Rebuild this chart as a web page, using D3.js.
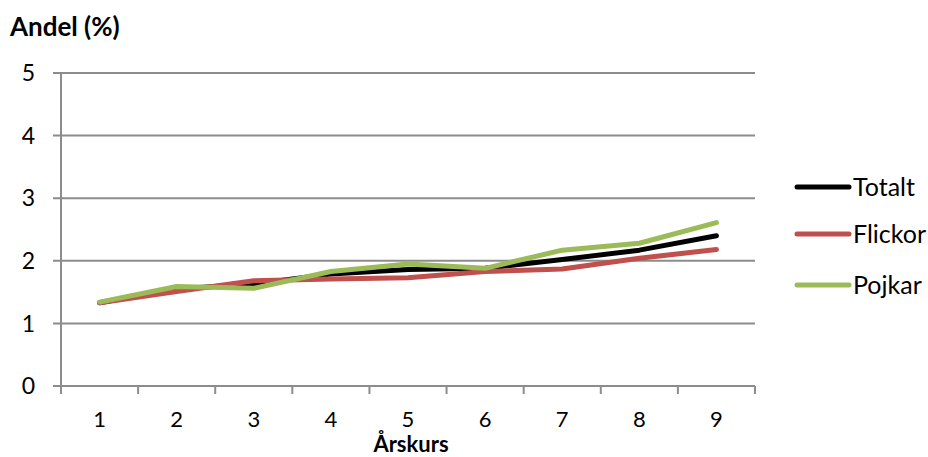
<!DOCTYPE html>
<html>
<head>
<meta charset="utf-8">
<script src="https://cdn.jsdelivr.net/npm/d3@7"></script>
<style>
  body { margin: 0; background: #fff; }
  text { font-family: Lato, "Open Sans", sans-serif; fill: #000; }
</style>
</head>
<body>
<div class="chart"></div>
<script>
var svgWidth = 928;
var svgHeight = 457;

// data
var grades = ["1", "2", "3", "4", "5", "6", "7", "8", "9"];
var totalt = [1.33, 1.55, 1.63, 1.79, 1.86, 1.88, 2.02, 2.17, 2.40];
var flickor = [1.33, 1.51, 1.68, 1.71, 1.73, 1.83, 1.87, 2.04, 2.18];
var pojkar = [1.34, 1.59, 1.56, 1.83, 1.95, 1.88, 2.17, 2.28, 2.61];
var yTicks = [0, 1, 2, 3, 4, 5];

var series = [
  { name: "Totalt", values: totalt, color: "#000000" },
  { name: "Flickor", values: flickor, color: "#C0504D" },
  { name: "Pojkar", values: pojkar, color: "#9BBB59" }
];

var margin = { top: 73, right: 173, bottom: 71, left: 61 };
var width = svgWidth - margin.left - margin.right;
var height = svgHeight - margin.top - margin.bottom;

var svg = d3.select(".chart")
  .append("svg")
  .attr("width", svgWidth)
  .attr("height", svgHeight);

var chartGroup = svg.append("g")
  .attr("transform", `translate(${margin.left}, ${margin.top})`);

var xScale = d3.scaleBand()
  .domain(grades)
  .range([0, width])
  .padding(0);

var yScale = d3.scaleLinear()
  .domain([0, 5])
  .range([height, 0]);

// gridlines
chartGroup.append("g")
  .selectAll("line")
  .data(yTicks)
  .enter()
  .append("line")
  .attr("x1", -8)
  .attr("x2", width)
  .attr("y1", d => yScale(d))
  .attr("y2", d => yScale(d))
  .attr("stroke", "#8c8c8c")
  .attr("stroke-width", 2);

// y axis line
chartGroup.append("line")
  .attr("x1", 0).attr("x2", 0)
  .attr("y1", 0).attr("y2", height)
  .attr("stroke", "#8c8c8c")
  .attr("stroke-width", 2);

// y labels
chartGroup.append("g")
  .selectAll("text")
  .data(yTicks)
  .enter()
  .append("text")
  .attr("x", -26)
  .attr("y", d => yScale(d))
  .attr("dy", "0.36em")
  .style("text-anchor", "end")
  .style("font-size", "23px")
  .text(d => d);

// x ticks at band edges
var edges = grades.map(g => xScale(g)).concat([width]);
chartGroup.append("g")
  .selectAll("line")
  .data(edges)
  .enter()
  .append("line")
  .attr("x1", d => d).attr("x2", d => d)
  .attr("y1", height).attr("y2", height + 8)
  .attr("stroke", "#8c8c8c")
  .attr("stroke-width", 2);

// x labels
chartGroup.append("g")
  .selectAll("text")
  .data(grades)
  .enter()
  .append("text")
  .attr("x", d => xScale(d) + xScale.bandwidth() / 2)
  .attr("y", height + 41)
  .style("text-anchor", "middle")
  .style("font-size", "22px")
  .text(d => d);

// lines
var line = d3.line()
  .x((d, i) => xScale(grades[i]) + xScale.bandwidth() / 2)
  .y(d => yScale(d));

chartGroup.selectAll(".series")
  .data(series)
  .enter()
  .append("path")
  .attr("class", "series")
  .attr("d", d => line(d.values))
  .attr("fill", "none")
  .attr("stroke", d => d.color)
  .attr("stroke-width", 5)
  .attr("stroke-linecap", "round")
  .attr("stroke-linejoin", "round");

// titles
svg.append("text")
  .attr("x", 10)
  .attr("y", 36)
  .style("font-size", "26px")
  .style("font-weight", "bold")
  .text("Andel (%)");

svg.append("text")
  .attr("x", margin.left + width / 2 + 3)
  .attr("y", 452)
  .style("text-anchor", "middle")
  .style("font-size", "22px")
  .style("font-weight", "bold")
  .text("Årskurs");

// legend
var legendY = [187, 234, 285];
var legend = svg.append("g")
  .selectAll("g")
  .data(series)
  .enter()
  .append("g")
  .attr("transform", (d, i) => `translate(797, ${legendY[i]})`);

legend.append("line")
  .attr("x1", 0).attr("x2", 52)
  .attr("y1", 0).attr("y2", 0)
  .attr("stroke", d => d.color)
  .attr("stroke-width", 5)
  .attr("stroke-linecap", "round");

legend.append("text")
  .attr("x", 56)
  .attr("y", 0)
  .attr("dy", "0.36em")
  .style("font-size", "25px")
  .text(d => d.name);
</script>
</body>
</html>
